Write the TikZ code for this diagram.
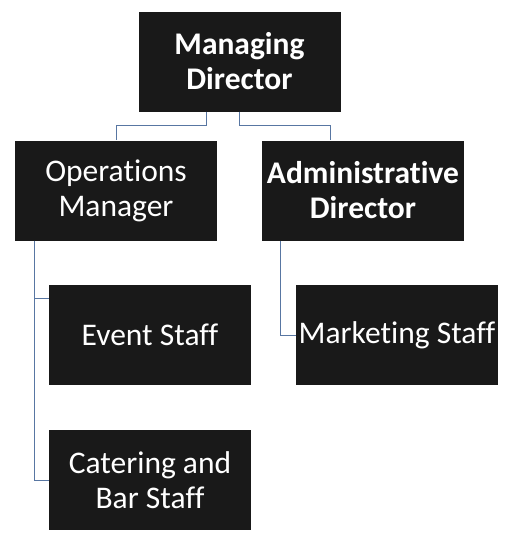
\documentclass[tikz,border=0pt]{standalone}
\usepackage{fontspec}
\setmainfont[Ligatures = NoCommon]{Carlito}
\usepackage{xcolor}
\usetikzlibrary{calc, positioning}

\definecolor{boxblack}{RGB}{25,25,25}
\definecolor{linkblue}{RGB}{88,118,162}

\begin{document}
\begin{tikzpicture}[x = 1pt, y = -1pt,
		post/.style = {fill = boxblack, text = white, minimum width = 202pt, minimum height = 100pt, align = center, inner sep = 0pt, font = \fontsize{31.5}{35}\selectfont},
		head/.style = {post, font = \fontsize{31.5}{35}\selectfont\bfseries},
		link/.style = {draw = linkblue, line width = 0.9pt}]
		\def\w{516};
		\def\h{558};
		
		\useasboundingbox [fill = white] (0,0) rectangle (\w,\h);
		
		\node [head] (md) at (239.5,61.5) {Managing\\Director};
		\node [post] (ops) at (116,190.5) {Operations\\Manager};
		\node [head] (adm) at (363,190.5) {Administrative\\Director};
		\node [post] (ev) at (150,335) {Event Staff};
		\node [post] (mkt) at (397,335) {Marketing Staff};
		\node [post] (cat) at (150,480) {Catering and\\Bar Staff};
		
		\draw [link] ([xshift = -33.5pt]md.south) -- ++(0,14) -| (ops.north);
		\draw [link] (md.south) -- ++(0,14) -| ([xshift = -33pt]adm.north);
		\draw [link] ([xshift = 20pt]ops.south west) |- ([yshift = 37pt]ev.west);
		\draw [link] ([xshift = 20pt]ops.south west) |- (cat.west);
		\draw [link] ([xshift = 19pt]adm.south west) |- (mkt.west);
	\end{tikzpicture}
\end{document}
